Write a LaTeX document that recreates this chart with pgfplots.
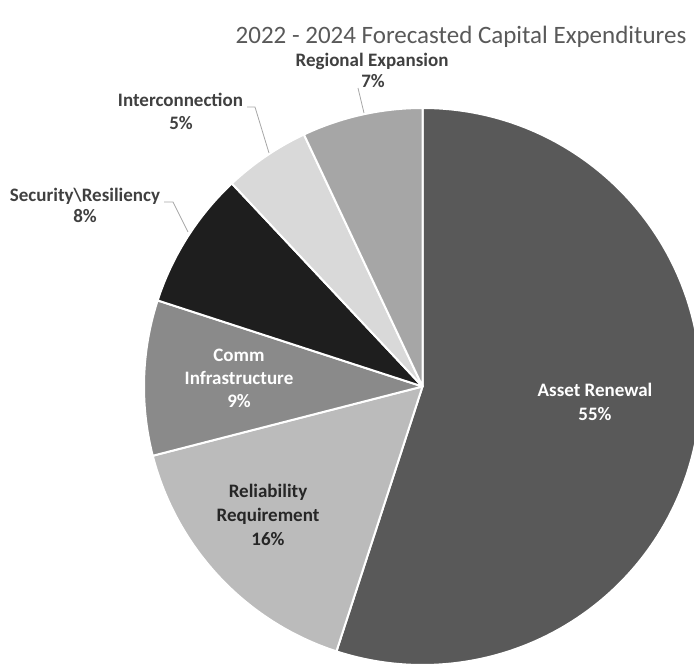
\documentclass[border=0pt]{standalone}
\usepackage{fontspec}
\setmainfont{Carlito}
\usepackage{pgfplots}
\usepackage{pgfplotstable}
\pgfplotsset{compat=1.18}

\definecolor{cAsset}{HTML}{595959}
\definecolor{cRel}{HTML}{BBBBBB}
\definecolor{cComm}{HTML}{8A8A8A}
\definecolor{cSec}{HTML}{1E1E1E}
\definecolor{cInter}{HTML}{D9D9D9}
\definecolor{cReg}{HTML}{A6A6A6}
\definecolor{cText}{HTML}{404040}
\definecolor{cTitle}{HTML}{595959}
\definecolor{cLine}{HTML}{A6A6A6}

% share of each category, clockwise from 12 o'clock
\pgfplotstableread{
value col
55 cAsset
16 cRel
9  cComm
8  cSec
5  cInter
7  cReg
}\piedata

\newcommand\lbl{\fontsize{19}{23}\selectfont\bfseries}

\begin{document}
\begin{tikzpicture}
\begin{axis}[
    at={(0,0)}, anchor=south west,
    scale only axis, width=694pt, height=670pt,
    xmin=0, xmax=694, ymin=0, ymax=670,
    hide axis, clip=true,
  ]
  \pgfplotstablegetrowsof{\piedata}
  \pgfmathtruncatemacro\N{\pgfplotsretval-1}
  \def\cum{0}
  \pgfplotsforeachungrouped \i in {0,...,\N}{
    \pgfplotstablegetelem{\i}{value}\of\piedata \let\v\pgfplotsretval
    \pgfplotstablegetelem{\i}{col}\of\piedata \let\c\pgfplotsretval
    \pgfmathsetmacro\a{90-3.6*\cum}
    \pgfmathsetmacro\b{90-3.6*(\cum+\v)}
    \edef\temp{\noexpand\fill[\c, draw=white, line width=2pt, line join=round]
      (axis cs:422.5,283.5) -- ++(\a:278.5pt)
      arc[start angle=\a, end angle=\b, radius=278.5pt] -- cycle;}
    \temp
    \pgfmathsetmacro\cum{\cum+\v}
  }

  % leader lines
  \draw[cLine, line width=0.8pt] (axis cs:358,582) -- (axis cs:364,557);
  \draw[cLine, line width=0.8pt] (axis cs:247,563) -- (axis cs:255,563) -- (axis cs:269,517);
  \draw[cLine, line width=0.8pt] (axis cs:164,468) -- (axis cs:173,468) -- (axis cs:188,438);

  % title
  \node[anchor=base, text=cTitle, font=\fontsize{25}{30}\selectfont]
    at (axis cs:461,626) {2022 - 2024 Forecasted Capital Expenditures};

  % data labels
  \node[anchor=base, text=cText, font=\lbl] at (axis cs:372,603) {Regional Expansion};
  \node[anchor=base, text=cText, font=\lbl] at (axis cs:373,582) {7\%};
  \node[anchor=base, text=cText, font=\lbl] at (axis cs:180.5,563) {Interconnection};
  \node[anchor=base, text=cText, font=\lbl] at (axis cs:181,540) {5\%};
  \node[anchor=base, text=cText, font=\lbl] at (axis cs:85,468) {Security\textbackslash Resiliency};
  \node[anchor=base, text=cText, font=\lbl] at (axis cs:85,447) {8\%};
  \node[anchor=base, text=white, font=\lbl] at (axis cs:239,308) {Comm};
  \node[anchor=base, text=white, font=\lbl] at (axis cs:239,285) {Infrastructure};
  \node[anchor=base, text=white, font=\lbl] at (axis cs:239,262) {9\%};
  \node[anchor=base, text=black!85, font=\lbl] at (axis cs:268,172) {Reliability};
  \node[anchor=base, text=black!85, font=\lbl] at (axis cs:268,148) {Requirement};
  \node[anchor=base, text=black!85, font=\lbl] at (axis cs:268,124) {16\%};
  \node[anchor=base, text=white, font=\lbl] at (axis cs:595,273) {Asset Renewal};
  \node[anchor=base, text=white, font=\lbl] at (axis cs:595,249) {55\%};
\end{axis}
\pgfresetboundingbox
\path[use as bounding box] (0,0) rectangle (694pt,670pt);
\end{tikzpicture}
\end{document}
